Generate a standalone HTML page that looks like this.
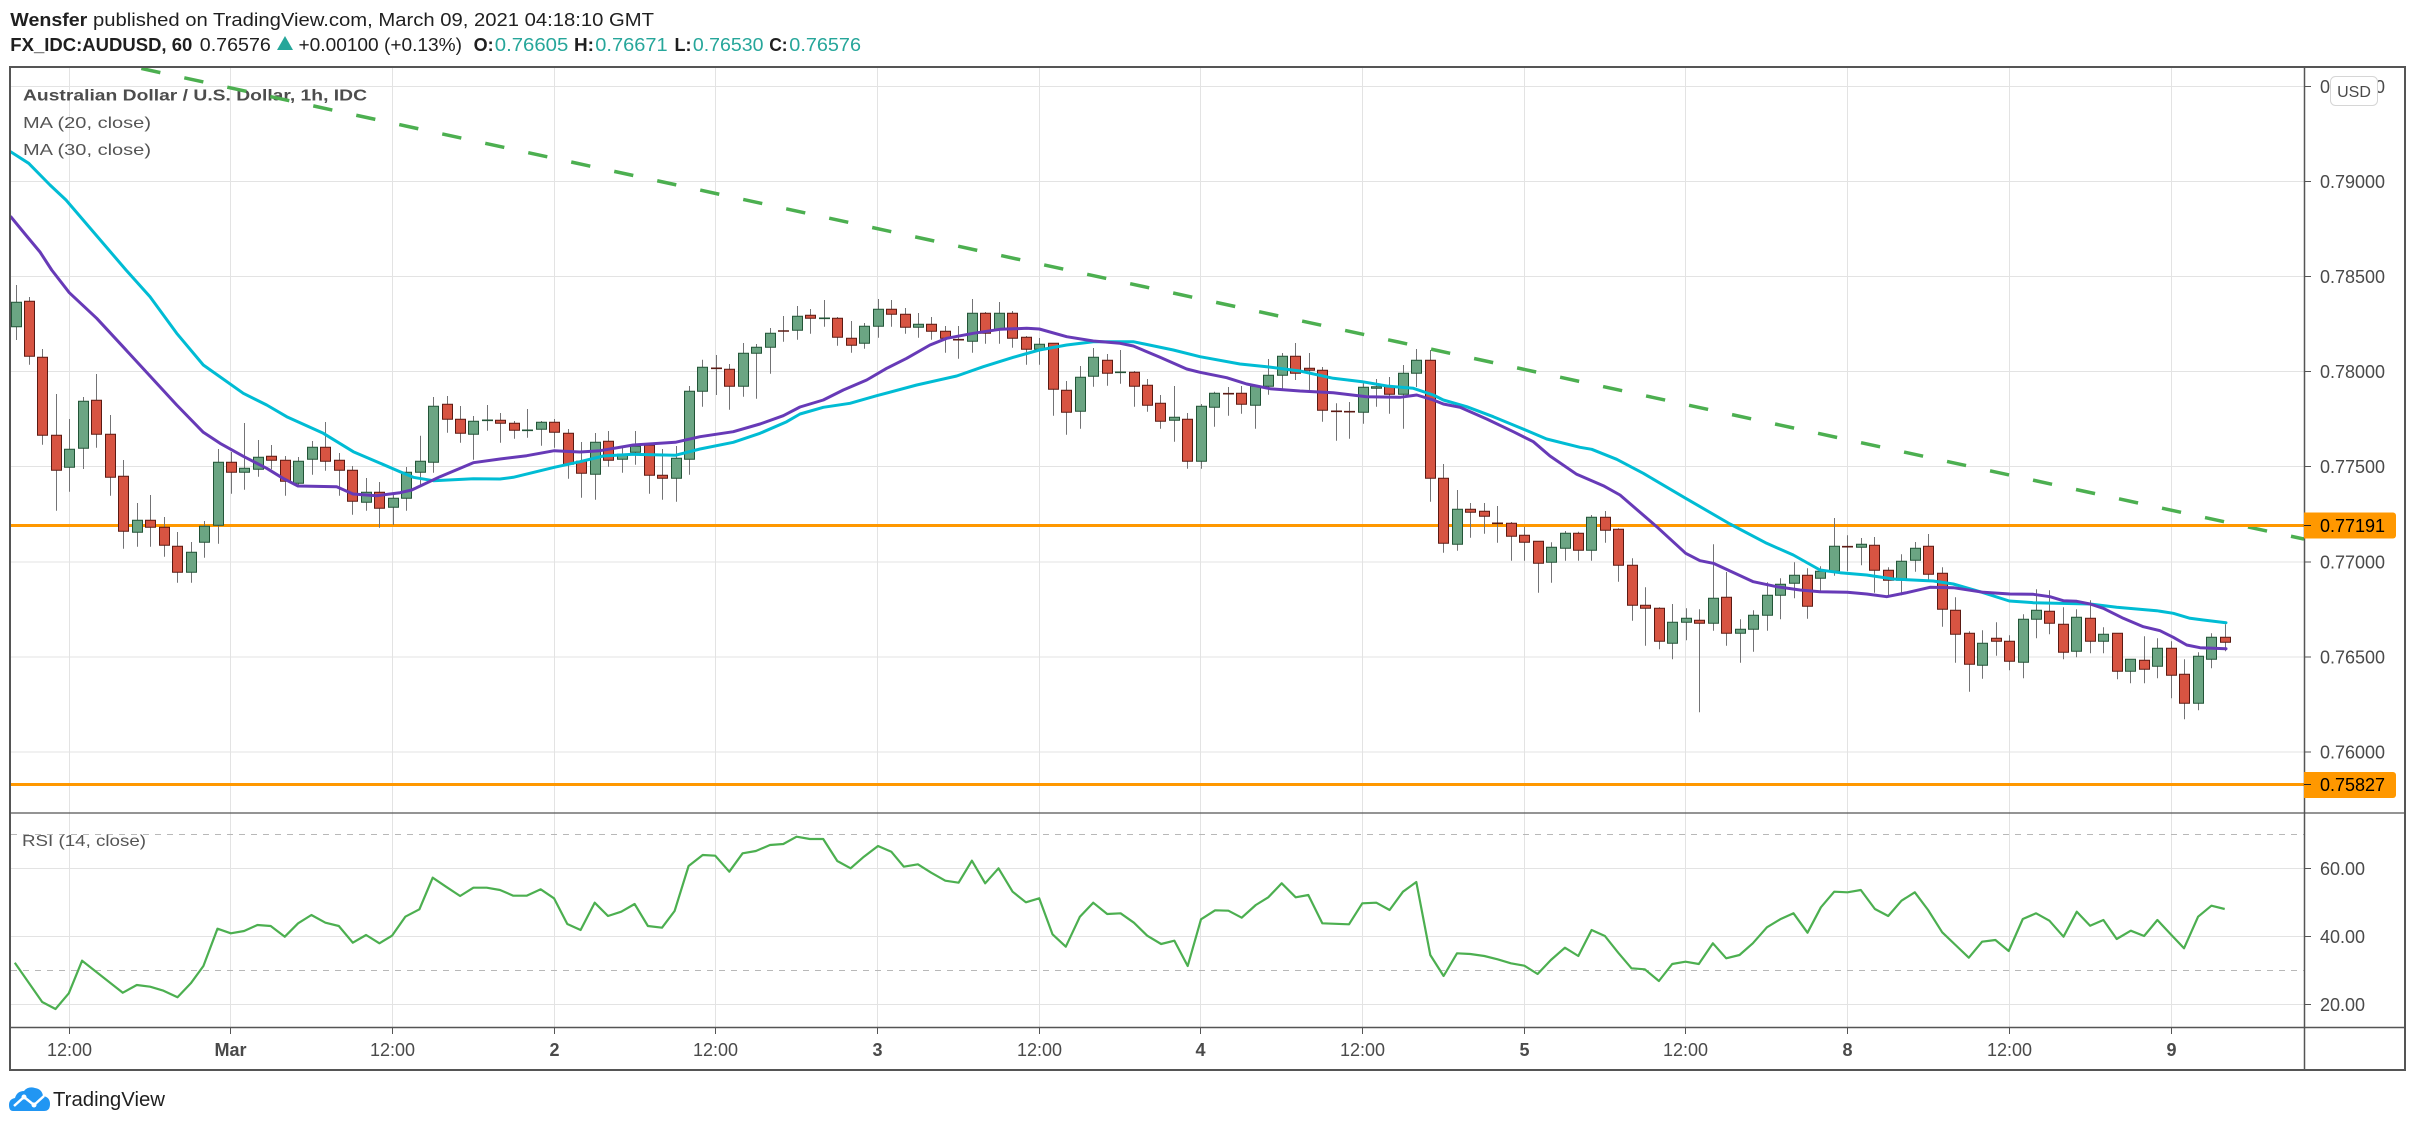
<!DOCTYPE html>
<html><head><meta charset="utf-8">
<style>html,body{margin:0;padding:0;background:#fff;}svg{display:block}</style>
</head><body>
<svg id="s" width="2415" height="1128" viewBox="0 0 2415 1128" xmlns="http://www.w3.org/2000/svg" font-family="'Liberation Sans', Arial, sans-serif">
<defs>
<clipPath id="cm"><rect x="11" y="68" width="2293" height="745"/></clipPath>
<clipPath id="cr"><rect x="11" y="813" width="2293" height="214"/></clipPath>
</defs>
<rect x="0" y="0" width="2415" height="1128" fill="#fff"/>

<!-- header -->
<text x="10.3" y="26" font-size="18" font-weight="bold" fill="#1f1f1f" textLength="77" lengthAdjust="spacingAndGlyphs">Wensfer</text>
<text x="93" y="26" font-size="18" fill="#1f1f1f" textLength="561" lengthAdjust="spacingAndGlyphs">published on TradingView.com, March 09, 2021 04:18:10 GMT</text>
<text x="10.3" y="51" font-size="18" font-weight="bold" fill="#1f1f1f" textLength="182" lengthAdjust="spacingAndGlyphs">FX_IDC:AUDUSD, 60</text>
<text x="199.8" y="51" font-size="18" fill="#1f1f1f" textLength="71" lengthAdjust="spacingAndGlyphs">0.76576</text>
<path d="M277 50 L285 36 L293 50 Z" fill="#26a69a"/>
<text x="298.5" y="51" font-size="18" fill="#1f1f1f" textLength="163.5" lengthAdjust="spacingAndGlyphs">+0.00100 (+0.13%)</text>
<text x="473.6" y="51" font-size="18" font-weight="bold" fill="#1f1f1f" textLength="20" lengthAdjust="spacingAndGlyphs">O:</text>
<text x="494.8" y="51" font-size="18" fill="#26a69a" textLength="73.5" lengthAdjust="spacingAndGlyphs">0.76605</text>
<text x="574" y="51" font-size="18" font-weight="bold" fill="#1f1f1f" textLength="20" lengthAdjust="spacingAndGlyphs">H:</text>
<text x="595.3" y="51" font-size="18" fill="#26a69a" textLength="72.3" lengthAdjust="spacingAndGlyphs">0.76671</text>
<text x="674.5" y="51" font-size="18" font-weight="bold" fill="#1f1f1f" textLength="17" lengthAdjust="spacingAndGlyphs">L:</text>
<text x="692.9" y="51" font-size="18" fill="#26a69a" textLength="70.6" lengthAdjust="spacingAndGlyphs">0.76530</text>
<text x="769.2" y="51" font-size="18" font-weight="bold" fill="#1f1f1f" textLength="18.4" lengthAdjust="spacingAndGlyphs">C:</text>
<text x="789.3" y="51" font-size="18" fill="#26a69a" textLength="71.7" lengthAdjust="spacingAndGlyphs">0.76576</text>

<!-- grid -->
<g stroke="#e3e3e3" stroke-width="1" fill="none">
<path d="M11 86.5H2304M11 181.5H2304M11 276.5H2304M11 371.5H2304M11 466.5H2304M11 562H2304M11 657H2304M11 752H2304"/>
<path d="M11 868.5H2304M11 936.5H2304M11 1004.5H2304"/>
<path d="M69.5 68V1027M230.5 68V1027M392.5 68V1027M554.5 68V1027M715.5 68V1027M877.5 68V1027M1039.5 68V1027M1200.5 68V1027M1362.5 68V1027M1524.5 68V1027M1685.5 68V1027M1847.5 68V1027M2009.5 68V1027M2171.5 68V1027"/>
</g>
<g stroke="#b8b8b8" stroke-width="1" stroke-dasharray="6 6" fill="none">
<path d="M11 834.5H2304M11 970.5H2304"/>
</g>

<!-- legend -->
<text x="23" y="100.5" font-size="16" font-weight="bold" fill="#4d4d4d" textLength="344" lengthAdjust="spacingAndGlyphs">Australian Dollar / U.S. Dollar, 1h, IDC</text>
<text x="23" y="128" font-size="16" fill="#555" textLength="128" lengthAdjust="spacingAndGlyphs">MA (20, close)</text>
<text x="23" y="155" font-size="16" fill="#555" textLength="128" lengthAdjust="spacingAndGlyphs">MA (30, close)</text>
<text x="22" y="846" font-size="16" fill="#555" textLength="124" lengthAdjust="spacingAndGlyphs">RSI (14, close)</text>

<!-- main pane series -->
<g clip-path="url(#cm)">
<line x1="98.3" y1="59.1" x2="2304" y2="539.1" stroke="#4caf50" stroke-width="3.5" stroke-dasharray="19.5 24.5"/>
<line x1="11" y1="525.5" x2="2304" y2="525.5" stroke="#ff9800" stroke-width="3"/>
<line x1="11" y1="784.5" x2="2304" y2="784.5" stroke="#ff9800" stroke-width="3"/>
<g id="cd"></g>
<polyline fill="none" stroke="#00bcd4" stroke-width="3" stroke-linejoin="round" stroke-linecap="round" points="11,152 28.7,163.3 50,185 66,200 96,235 126,270 150,296.7 176.7,333.3 203.3,365 243.3,393.3 266.7,405 286.7,416.7 323.3,433.3 353.3,451.7 400,471.7 413.3,477.3 433.3,480.7 473.3,478.7 500,479 513.3,477.3 554.3,467.3 580,461.7 603.3,456 633.3,454.3 675.3,455.3 700,449 733.3,442.3 760,433.3 786.7,421.7 800,414 823.3,407.3 850,403.3 876.7,395.7 916.7,385 956.7,376 983.3,366.7 1013.3,357.3 1039.3,350 1066.7,345 1093.3,341.7 1133.3,341.7 1173.3,350 1200,356.7 1240,364 1266.7,366.7 1300,371 1333.3,378.3 1362.3,381.7 1386.7,386 1413.3,388.3 1433.3,395 1443.3,400 1466.7,406.7 1493.3,416.7 1520,427.7 1546.7,439 1580,447.3 1591.7,449.3 1616.7,459.3 1643.3,473.3 1685.7,498.3 1730,524 1766.7,543.3 1793.3,555 1820,570 1840,572.7 1866.7,575 1893.3,579 1933.3,581 1953.3,584 1980,591.7 2009.3,601 2033.3,602.7 2090,604 2116.7,607.3 2156.7,610.7 2173.3,613.3 2190,618.3 2203.3,620 2226,622.7"/>
<polyline fill="none" stroke="#673ab7" stroke-width="3" stroke-linejoin="round" stroke-linecap="round" points="11,217 25,234 40,252 51.7,270 69.3,292.7 96.7,318.3 123,346.7 150,376 176.7,405 203.3,432.3 220,443.3 244,456.7 266.7,468.3 283,478.3 298,486 336.7,486.7 353,494 376.7,495.7 400,492.7 411.7,490 440,476.7 473.3,462.7 500,459 526.7,455.7 554.3,450.7 580,452 600,450.7 633.3,445 675.3,442.3 700,436.7 733.3,431.7 760,424 783.3,415.7 800,407 823.3,400 843.3,390 866.7,380 886.7,368.3 906.7,358.3 930,345 946.7,338.3 973.3,333.3 1000,329.3 1026.7,328.3 1039.3,329 1066.7,336.7 1093.3,341 1120,343.3 1133.3,346 1160,357.3 1186.7,369 1200,372.3 1226.7,377.7 1246.7,384 1270,388.7 1300,391 1333.3,392.7 1366.7,396.7 1400,397.3 1416.7,395 1433.3,400 1443.3,404 1460,407.3 1486.7,419 1513.3,431.7 1533.3,441.7 1550,456 1576.7,474.3 1603.3,485.7 1620,495 1656.7,526.7 1685.7,553.3 1700,560.7 1713.3,563.3 1753.3,581.7 1776.7,586.7 1800,590 1820,591.7 1847.3,592.3 1866.7,594 1886.7,596.7 1906.7,592.7 1930,587.3 1953.3,587.7 1983.3,592.3 2010,594 2033.3,594.3 2050,596.7 2063.3,600.7 2076.7,601.3 2090,604 2103.3,608.3 2123.3,618.3 2143.3,626.7 2160,630.7 2173.3,637.3 2186.7,645 2200,647.7 2226,648.7"/>
</g>

<!-- RSI -->
<g clip-path="url(#cr)">
<polyline fill="none" stroke="#4caf50" stroke-width="2.2" stroke-linejoin="round" points="14.8,962.7 42.2,1002 55.5,1009 68.8,993.3 82.1,960.7 122.8,992.7 136.8,985 150.1,986.7 163.5,990.7 177.5,997.3 190.8,983.3 203.4,966 217.5,928.7 230.8,933.3 244.1,931 257.4,925 270.7,926 284.8,936.7 298.1,923.3 311.4,915 325.4,922.7 338.8,926 352.8,942.7 366.1,935 379.4,943.3 392,935.7 405.3,916.7 419.4,909.3 432.7,877.7 446,886.7 460.1,896 473.4,887.7 486.7,887.7 500,890 513.3,895.7 526.6,895.7 540.7,889.3 554,898.3 567.3,924 580.6,930 594.7,902.7 608,916 621.3,911.7 634.6,904 647.9,926 662,927.7 674.6,911 688.6,866 702.7,855 715.2,855.7 729.3,871.7 742.6,853.3 755.9,851 770,845 783.3,844 796.6,836.7 809.9,839 823.2,839 837.3,861 850.6,868.3 863.9,856.7 878,846 891.3,851.7 903.8,866.7 917.9,864.3 931.2,872.7 945.3,880.7 958.6,882.7 971.9,860.7 985.2,883.3 998.5,868.3 1012.6,891.7 1025.9,902.3 1039.2,898.3 1052.5,934.3 1065.8,946.7 1079.9,916.7 1093.2,902.7 1107.2,914 1120.6,913.3 1133.9,922.7 1147.2,935.7 1161.1,944 1174.4,940.7 1187.7,966 1201,919.3 1215.1,910.3 1228.4,910.7 1241.7,917.7 1255.8,905 1268.3,897.3 1281.7,883.3 1295.7,897.3 1308.3,895 1322.3,923.3 1349,924.3 1362.3,903.3 1376.3,902.7 1389.6,910 1403,891.7 1416.3,882 1430.3,955 1443.6,976 1457,953.3 1470.3,954 1484.3,956 1497.6,959.3 1510.9,963.3 1524.3,965.7 1537.6,974 1550.9,960 1564.9,947.7 1578.3,956 1591.6,930 1604.9,936 1618.2,952.7 1631.5,968.3 1644.8,969.3 1658.9,981 1672.2,964 1685.5,961.7 1698.8,964 1712.9,943.3 1726.2,958.3 1739.5,955 1752.8,943.3 1766.9,927.3 1780.2,919.3 1793.5,913.3 1807.5,932.7 1820.9,907.3 1834.2,891.7 1847.5,892.3 1860.8,890 1874.9,909 1888.2,916 1901.5,900.7 1914.8,892.3 1928.1,910 1942.2,932.3 1955.5,945 1968.8,957.7 1982.1,941.7 1995.4,940 2008.7,951 2022.8,919 2036.1,913.3 2049.4,920.7 2063.5,936.7 2076.8,911.7 2090.1,925.7 2103.4,920 2116.7,939 2130.8,930.7 2144.1,936 2157.4,920 2170.7,934.3 2184,948.3 2198.1,916.7 2211.4,905.7 2224.7,909"/>
</g>

<!-- frame lines -->
<g stroke="#555" fill="none">
<rect x="10" y="67" width="2395" height="1003" stroke-width="2"/>
<line x1="2304.5" y1="67" x2="2304.5" y2="1070" stroke-width="1.5"/>
<line x1="10" y1="813" x2="2405" y2="813" stroke-width="1.2"/>
<line x1="10" y1="1027.5" x2="2405" y2="1027.5" stroke-width="1.5"/>
<!-- price ticks -->
<path stroke-width="1" d="M2304 86.5H2311M2304 181.5H2311M2304 276.5H2311M2304 371.5H2311M2304 466.5H2311M2304 562H2311M2304 657H2311M2304 752H2311M2304 868.5H2311M2304 936.5H2311M2304 1004.5H2311"/>
<!-- time ticks -->
<path stroke-width="1" d="M69.5 1027V1034M230.5 1027V1034M392.5 1027V1034M554.5 1027V1034M715.5 1027V1034M877.5 1027V1034M1039.5 1027V1034M1200.5 1027V1034M1362.5 1027V1034M1524.5 1027V1034M1685.5 1027V1034M1847.5 1027V1034M2009.5 1027V1034M2171.5 1027V1034"/>
</g>

<!-- price labels -->
<g font-size="18" fill="#4a4a4a">
<text x="2320" y="93">0.79500</text>
<text x="2320" y="188">0.79000</text>
<text x="2320" y="283">0.78500</text>
<text x="2320" y="378">0.78000</text>
<text x="2320" y="473">0.77500</text>
<text x="2320" y="568.5">0.77000</text>
<text x="2320" y="663.5">0.76500</text>
<text x="2320" y="758.5">0.76000</text>
<text x="2320" y="875">60.00</text>
<text x="2320" y="943">40.00</text>
<text x="2320" y="1011">20.00</text>
</g>
<rect x="2330.5" y="76.5" width="47" height="29" rx="5" fill="#fff" stroke="#d6d6d6"/>
<text x="2354" y="97" font-size="16" fill="#4a4a4a" text-anchor="middle">USD</text>

<!-- orange labels -->
<path d="M2304 512.5H2393a3 3 0 0 1 3 3V535.5a3 3 0 0 1 -3 3H2304Z" fill="#ff9800"/>
<line x1="2304" y1="525.5" x2="2311" y2="525.5" stroke="#222" stroke-width="1"/>
<text x="2320" y="532" font-size="18" fill="#000">0.77191</text>
<path d="M2304 772H2393a3 3 0 0 1 3 3V795a3 3 0 0 1 -3 3H2304Z" fill="#ff9800"/>
<line x1="2304" y1="784.5" x2="2311" y2="784.5" stroke="#222" stroke-width="1"/>
<text x="2320" y="791" font-size="18" fill="#000">0.75827</text>

<!-- time labels -->
<g font-size="18" fill="#4a4a4a" text-anchor="middle">
<text x="69.5" y="1056">12:00</text>
<text x="230.5" y="1056" font-weight="bold">Mar</text>
<text x="392.5" y="1056">12:00</text>
<text x="554.5" y="1056" font-weight="bold">2</text>
<text x="715.5" y="1056">12:00</text>
<text x="877.5" y="1056" font-weight="bold">3</text>
<text x="1039.5" y="1056">12:00</text>
<text x="1200.5" y="1056" font-weight="bold">4</text>
<text x="1362.5" y="1056">12:00</text>
<text x="1524.5" y="1056" font-weight="bold">5</text>
<text x="1685.5" y="1056">12:00</text>
<text x="1847.5" y="1056" font-weight="bold">8</text>
<text x="2009.5" y="1056">12:00</text>
<text x="2171.5" y="1056" font-weight="bold">9</text>
</g>

<!-- TradingView logo -->
<g>
<path d="M13 1111 Q9 1111 9 1105 Q9 1099 15 1098 Q17 1091 24 1091 Q28 1086 35 1088 Q42 1089 43 1096 Q50 1097 50 1104 Q50 1111 44 1111 Z" fill="#2196f3"/>
<polyline points="14,1106 24,1097 34,1105 44,1096" fill="none" stroke="#fff" stroke-width="2.5" stroke-linejoin="round"/>
<circle cx="24" cy="1097" r="2.5" fill="#fff"/>
<circle cx="34" cy="1105" r="2.5" fill="#fff"/>
<text x="53" y="1106" font-size="20" fill="#1f1f1f" textLength="112" lengthAdjust="spacingAndGlyphs">TradingView</text>
</g>
</svg>
<script>
(function(){
var D=[[326.7,302.3,285,340],[301.3,356.3,297,364.7],[357.3,435.3,349,444.7],[435.3,470.3,394,510.7],[467.3,449.3,419,491.7],[448.3,401.3,397,469],[400.3,434.3,374,447.7],[434.3,477.3,415,495.7],[476.3,531.3,460,548.7],[532.3,520.3,503,546.7],
[520.3,527.3,495,546.7],[527.3,545.3,517,556.7],[546.3,572.3,532,582.7],[572.3,552.3,542,582.7],[542.3,526.3,521,557.7],[525.3,462.3,449,543.7],[462.3,472.3,452,493.7],[472.3,468.3,423,489.7],[469.3,457.3,440,476.7],[456.3,460.3,445,469.3],
[460.3,481.3,456,495.7],[483.3,461.3,457,487.3],[459.3,447.3,441,474.7],[447.3,461.3,422,470.7],[460.3,470.3,453,495.7],[470.3,501.3,466,514.7],[502.3,492.3,478,510.7],[492.3,508.3,482,527.7],[507.3,498.3,493,525],[498.3,472.3,467,510.7],
[472.3,461.3,435.7,485.7],[462.3,406.3,397,472.7],[404.3,419.3,396,432.7],[419.3,433.3,406,442.7],[434.3,421.3,416,459.7],[420.3,420.3,405,430.7,1],[420.3,423.3,413,442.7],[423.3,430.3,421,438.7],[430.3,430.3,409,437.7,1],[429.3,422.3,421,445.7],
[422.3,432.3,419,447.7],[433.3,464.3,429,478.7],[461.3,473.3,442,497.7],[474.3,442.3,433,499.7],[441.3,460.3,431,466.7],[459.3,454.3,446,472.7],[452.3,446.3,431,464.7],[445.3,475.3,445,493.7],[475.3,478.3,449,499.7],[478.3,458.3,446,501.7],
[459.3,391.3,386,474.7],[391.3,367.3,359.7,406.7],[368.3,368.3,355,395,0],[369.3,386.3,364,409.7],[386.3,353.3,343,396.7],[353.3,347.3,344,398.7],[347.3,333.3,328,373.7],[331,331,316,341.7,0],[330.3,316.3,306,339.7],[315.3,318.3,309,333.7],
[318.3,318.3,300,326.7,1],[318.3,337.3,317,345.7],[338.3,345.3,321,352.7],[343.3,326.3,323,348.7],[326.3,309.3,299,337.7],[309.3,314.3,300,326.7],[314.3,327.3,308,333.7],[327.3,324.3,313,337.7],[324.3,331.3,317,339.7],[331.3,338.3,326,352.7],
[339.7,339.7,326,358.7,0],[341.3,313.3,299,352.7],[313.3,333.3,312,343.7],[329.3,313.3,302,343.7],[313.3,338.3,311,347.7],[337.3,349.3,336,364.7],[349.3,344.3,338,364.7],[343.3,389.3,343,415.7],[390.3,412.3,381,434.7],[411.3,377.3,366,428.7],
[376.3,357.3,348,386.7],[360.3,373.3,354,385.7],[372.3,372.3,350,383.7,1],[372.3,386.3,371,406.7],[385.3,405.3,379,411.7],[403.3,421.3,395,428.7],[420.3,417.3,386,441.7],[419.3,461.3,413,468.7],[461.3,406.3,404,468.7],[407.3,393.3,391.7,426.7],
[393.7,393.7,387,415.7,0],[393.3,404.3,386,413.7],[405.3,386.3,385,428.7],[386.3,375.3,359,394.7],[375.3,356.3,353,389.3],[356.3,373.3,343,380],[368.3,370.3,353,390.7],[370.3,410.3,367,421.7],[411.3,411.3,403.3,440.7,0],[411.7,411.7,402,438.7,0],
[412.3,387.3,383.3,423.7],[388.3,386.7,379,406.7],[386.3,394.3,377,413.7],[394.3,373.3,365,428.7],[373.3,360.3,349,387],[360.3,478.3,350,501.7],[478.3,543.3,464,552.7],[544.3,509.3,490,550.7],[509.3,512.3,503,537.7],[511.3,516.3,503,533.7],
[523.3,523.3,506,542.7,0],[523.3,536.3,522,560.7],[535.3,542.3,526.7,560.7],[541.3,563.3,541,592.7],[562.3,547.3,542.3,582.7],[548.3,533.3,531,560.7],[533.3,550.3,531.7,560.7],[550.3,517.3,515,560.7],[517.3,530.3,511,542.7],[529.3,565.3,528.3,581.7],
[565.3,605.3,558.3,620.7],[605.3,608.3,587.3,645.7],[608.3,641.3,607.3,649.3],[643.3,622.3,604,659.3],[622.3,618.3,608.3,640.3],[620.3,623.3,609.3,712.3],[623.3,598.3,544.3,630.7],[597.3,633.3,572,645.7],[633.3,629.3,619.3,662.7],[629.3,615.3,610.3,651.7],
[615.3,595.3,582.3,630.7],[595.3,584.3,578.3,619.3],[583.3,575.3,562.3,598.3],[575.3,606.3,568.3,618.7],[578.3,571.3,566.3,592.7],[571.3,546.3,518,575.7],[546.7,546.7,535.3,571.3,0],[547.3,544.3,538,565.3],[545.3,570.3,537,592.7],[570.3,580.3,567.3,596.7],
[580.3,561.3,554.3,595.3],[560.3,548.3,542,571.7],[546.3,574.3,534,581.7],[573.3,609.3,567.3,626.7],[610.3,634.3,597.3,662.7],[633.3,664.3,631.3,691.7],[665.3,643.3,630.3,678.7],[638.3,641.3,622.3,655.7],[641.3,661.3,635.3,670.3],[662.3,619.3,614.3,678.3],
[619.3,610.3,589.3,638.3],[611.3,623.3,590.3,634.3],[624.3,652.3,607.3,659.3],[651.3,617.3,609.3,657.3],[618.3,641.3,600.3,653.3],[641.3,634.3,627.3,653.3],[633.3,671.3,633.3,679.3],[671.3,659.3,659.3,683.3],[660.3,669.3,636.3,683.3],[666.3,648.3,638.3,678.3],
[648.3,675.3,641.3,698.3],[674.3,703.3,659.3,719.3],[703.3,656.3,652.3,710.3],[659.3,637.3,633.3,668.3],[637.3,642.3,624.3,651.3]];
var ns='http://www.w3.org/2000/svg',g=document.getElementById('cd');
var wk='',up='',dn='',du='',dd='';
for(var i=0;i<D.length;i++){
 var d=D[i],x=Math.round(15.5+13.47*i)+0.5;
 wk+='M'+x+' '+d[2]+'V'+d[3];
 var o=d[0],c=d[1],t=Math.min(o,c),h=Math.abs(o-c);
 if(h<1.5){
  var isUp=(d.length>4)?d[4]==1:(c<=o);
  var s='M'+(x-5.5)+' '+(t)+'H'+(x+5.5);
  if(isUp)du+=s;else dd+=s;
 }else{
  var p='M'+(x-5)+' '+t.toFixed(1)+'h10v'+h.toFixed(1)+'h-10z';
  if(c<o)up+=p;else dn+=p;
 }
}
function mk(dv,attrs){var e=document.createElementNS(ns,'path');e.setAttribute('d',dv);for(var k in attrs)e.setAttribute(k,attrs[k]);g.appendChild(e);}
mk(wk,{stroke:'#737375','stroke-width':'1',fill:'none'});
mk(up,{fill:'#6ba583',stroke:'#225437','stroke-width':'1'});
mk(dn,{fill:'#d75442',stroke:'#5b1a13','stroke-width':'1'});
mk(du,{stroke:'#225437','stroke-width':'1.6',fill:'none'});
mk(dd,{stroke:'#5b1a13','stroke-width':'1.6',fill:'none'});
})();
</script>
</body></html>
